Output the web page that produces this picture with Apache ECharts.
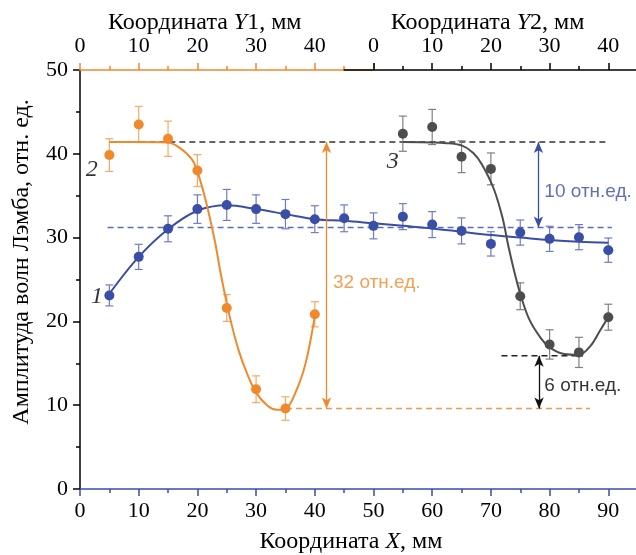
<!DOCTYPE html>
<html><head><meta charset="utf-8">
<script src="https://cdn.jsdelivr.net/npm/echarts@6/dist/echarts.min.js"></script>
<style>html,body{margin:0;padding:0;background:#fff}#c{width:636px;height:555px}</style>
</head><body><div id="c"></div>
<script>
// ---- data ----
const xSeries1 = [5,10,15,20,25,30,35,40,45,50,55,60,65,70,75,80,85,90];
const amp1 = [23.1,27.7,31.05,33.4,33.9,33.4,32.8,32.2,32.3,31.4,32.5,31.55,30.8,29.25,30.6,29.85,30.05,28.5];
const err1 = [1.25,1.5,1.55,1.7,1.85,1.7,1.75,1.6,1.6,1.55,1.55,1.55,1.55,1.45,1.5,1.5,1.5,1.45];

const xSeries2 = [5,10,15,20,25,30,35,40];
const amp2 = [39.85,43.5,41.8,38.0,21.6,11.9,9.6,20.85];
const err2 = [1.95,2.15,2.1,1.9,1.6,1.6,1.4,1.5];

const xSeries3 = [55,60,65,70,75,80,85,90];
const amp3 = [42.4,43.2,39.65,38.2,23.0,17.25,16.3,20.5];
const err3 = [2.1,2.1,1.9,1.9,1.6,1.75,1.8,1.55];

const fit1X = [5,10,15,20,25,30,35,40,45,50,55,60,65,70,75,80,85,90];
const fit1Y = [23.3,27.7,31.0,33.2,33.85,33.4,32.8,32.2,32.0,31.7,31.4,31.1,30.7,30.3,30.0,29.7,29.5,29.4];
const fit2X = [5,10,15,17,19,20,21.5,23,24,25.5,27,28.5,30,32,33.5,35,37,38.5,40];
const fit2Y = [41.4,41.4,41.35,40.7,39.4,37.9,34.2,29.5,25.6,20.6,16.6,13.7,11.5,9.9,9.45,9.55,12.0,15.2,20.6];
const fit3X = [55,60,62,65,67,68.5,70.5,72,73,74,75,76.5,78.5,80,82.5,85,87,88.5,90];
const fit3Y = [41.4,41.35,41.3,41.0,40.1,38.7,35.8,32.3,28.9,25.9,23.3,20.3,18.0,16.9,16.1,16.0,17.1,18.8,20.5];

// reference levels: [level, xStart, xEnd]
const levelTop = [41.4, 5, 89.7];
const levelMid = [31.2, 4.7, 90.6];
const levelLow = [9.6, 35.1, 86.9];
const levelMin3 = [15.9, 71.8, 85.7];

// arrows: [x, yFrom, yTo]
const arrow32 = [42.0, 41.4, 9.6];
const arrow10 = [78.1, 41.4, 31.2];
const arrow6 = [78.2, 15.9, 9.6];

// annotation texts: [x, y, text]
const noteTexts = [[43.1, 24.6, '32 отн.ед.'], [79.1, 35.5, '10 отн.ед.'], [79.1, 12.3, '6 отн.ед.']];
const curveNumbers = [[2.9, 23.0, '1'], [2.0, 38.1, '2'], [53.3, 39.0, '3']];

const xTickLabels = [0,10,20,30,40,50,60,70,80,90];
const y1TickLabels = [0,10,20,30,40];
const y2TickLabels = [0,10,20,30,40];
const yTickLabels = [0,10,20,30,40,50];

// ---- styles ----
const ORANGE = '#F0892B', ORANGE_L = '#F4A96A';
const BLUE = '#3A4EA5', BLUE_L = '#6F7CC2';
const GRAY = '#4D4D4D', GRAY_L = '#808080';
const SERIF = "'Liberation Serif','Times New Roman',serif";
const SANS = "'Liberation Sans',Arial,sans-serif";
const U = 5.87;
const TICK_FS = 22, TITLE_FS = 24;

function zip(xs, ys) { return xs.map((x, i) => [x, ys[i]]); }
function errData(xs, ys, es) { return xs.map((x, i) => [x, ys[i] - es[i], ys[i] + es[i]]); }

function errSeries(xs, ys, es, color) {
  return {
    type: 'custom', z: 3, silent: true,
    data: errData(xs, ys, es),
    renderItem: function (params, api) {
      const x = api.value(0);
      const p1 = api.coord([x, api.value(1)]);
      const p2 = api.coord([x, api.value(2)]);
      const w = 4;
      const st = { stroke: color, lineWidth: 1.2 };
      return { type: 'group', children: [
        { type: 'line', shape: { x1: p1[0], y1: p1[1], x2: p2[0], y2: p2[1] }, style: st },
        { type: 'line', shape: { x1: p1[0] - w, y1: p1[1], x2: p1[0] + w, y2: p1[1] }, style: st },
        { type: 'line', shape: { x1: p2[0] - w, y1: p2[1], x2: p2[0] + w, y2: p2[1] }, style: st }
      ] };
    }
  };
}
function pointSeries(xs, ys, color) {
  return { type: 'scatter', z: 5, silent: true, symbol: 'circle', symbolSize: 10,
    itemStyle: { color: color, opacity: 1 }, data: zip(xs, ys) };
}
function fitSeries(xs, ys, color) {
  return { type: 'line', z: 4, silent: true, smooth: 0.35, symbol: 'none',
    lineStyle: { color: color, width: 2 }, data: zip(xs, ys) };
}
function levelSeries(lv, color) {
  return { type: 'line', z: 2, silent: true, symbol: 'none',
    lineStyle: { color: color, width: 1.4, type: [6, 4] },
    data: [[lv[1], lv[0]], [lv[2], lv[0]]] };
}
function arrowSeries(a, color) {
  return { type: 'line', silent: true, data: [], z: 3,
    markLine: { silent: true, symbol: ['arrow', 'arrow'], symbolSize: [7, 11],
      label: { show: false }, lineStyle: { color: color, width: 1.3, type: 'solid' },
      data: [[{ coord: [a[0], a[1]] }, { coord: [a[0], a[2]] }]] } };
}
function titleStyle(pad) {
  return { color: '#000', fontFamily: SERIF, fontSize: TITLE_FS, padding: pad,
    rich: { i: { fontStyle: 'italic', fontFamily: SERIF, fontSize: TITLE_FS, color: '#000' } } };
}
function gridBox(x0, x1) {
  return { left: 80 + x0 * U, top: 70, width: (x1 - x0) * U, height: 419,
    outerBoundsMode: 'none', containLabel: false };
}

const labelColors = [ORANGE, BLUE, '#000'];

const option = {
  animation: false,
  backgroundColor: '#fff',
  grid: [ gridBox(0, 100), gridBox(0, 50), gridBox(45, 100), gridBox(50, 100) ],
  xAxis: [
    { type: 'value', gridIndex: 0, position: 'bottom', min: 0, max: 100, interval: 10,
      axisLine: { show: true, onZero: false, lineStyle: { color: BLUE, width: 1.5 } },
      axisTick: { show: true, inside: false, length: 7, lineStyle: { color: BLUE, width: 1.5 } },
      minorTick: { show: true, splitNumber: 2, length: 4, lineStyle: { color: BLUE, width: 1.5 } },
      splitLine: { show: false },
      axisLabel: { color: '#000', fontFamily: SERIF, fontSize: TICK_FS, margin: 11, showMaxLabel: false,
        formatter: v => (xTickLabels.indexOf(v) >= 0 ? String(v) : '') },
      name: 'Координата {i|X}, мм', nameLocation: 'middle', nameGap: 41,
      nameTextStyle: titleStyle([0, 45, 0, 0]) },
    // Y1 axis (orange), coordinate 0..50 drawn under the black part beyond 45
    { type: 'value', gridIndex: 1, position: 'top', min: 0, max: 50, interval: 10, z: 1,
      axisLine: { show: true, onZero: false, lineStyle: { color: ORANGE, width: 1.5 } },
      axisTick: { show: true, inside: false, length: 7, lineStyle: { color: ORANGE, width: 1.5 } },
      minorTick: { show: true, splitNumber: 2, length: 4, lineStyle: { color: ORANGE, width: 1.5 } },
      splitLine: { show: false },
      axisLabel: { color: '#000', fontFamily: SERIF, fontSize: TICK_FS, margin: 13, showMaxLabel: false,
        formatter: v => (y1TickLabels.indexOf(v) >= 0 ? String(v) : '') },
      name: 'Координата {i|Y}1, мм', nameLocation: 'middle', nameGap: 35, nameMoveOverlap: false,
      nameTextStyle: titleStyle([0, 44, 0, 0]) },
    // black line of the Y2 axis, from X = 45 onwards
    { type: 'value', gridIndex: 2, position: 'top', min: 0, max: 1, z: 2,
      axisLine: { show: true, onZero: false, lineStyle: { color: '#000', width: 1.5 } },
      axisTick: { show: false }, minorTick: { show: false }, splitLine: { show: false },
      axisLabel: { show: false },
      name: 'Координата {i|Y}2, мм', nameLocation: 'middle', nameGap: 35,
      nameTextStyle: titleStyle([0, 36, 0, 0]) },
    // Y2 ticks and labels
    { type: 'value', gridIndex: 3, position: 'top', min: 0, max: 50, interval: 10, z: 3,
      axisLine: { show: false, onZero: false },
      axisTick: { show: true, inside: false, length: 7, lineStyle: { color: '#000', width: 1.5 } },
      minorTick: { show: true, splitNumber: 2, length: 4, lineStyle: { color: '#000', width: 1.5 } },
      splitLine: { show: false },
      axisLabel: { color: '#000', fontFamily: SERIF, fontSize: TICK_FS, margin: 13, showMaxLabel: false,
        formatter: v => (y2TickLabels.indexOf(v) >= 0 ? String(v) : '') } }
  ],
  yAxis: [
    { type: 'value', gridIndex: 0, min: 0, max: 50, interval: 10,
      axisLine: { show: true, onZero: false, lineStyle: { color: '#000', width: 1.5 } },
      axisTick: { show: true, inside: false, length: 7, lineStyle: { color: '#000', width: 1.5 } },
      minorTick: { show: true, splitNumber: 2, length: 4, lineStyle: { color: '#000', width: 1.5 } },
      splitLine: { show: false },
      axisLabel: { color: '#000', fontFamily: SERIF, fontSize: TICK_FS, margin: 12,
        formatter: v => (yTickLabels.indexOf(v) >= 0 ? String(v) : '') },
      name: 'Амплитуда волн Лэмба, отн. ед.', nameLocation: 'middle', nameGap: 46, nameRotate: 90,
      nameTextStyle: { color: '#000', fontFamily: SERIF, fontSize: TITLE_FS, padding: [0, 0, 0, 35] } },
    { type: 'value', gridIndex: 1, min: 0, max: 50, show: false },
    { type: 'value', gridIndex: 2, min: 0, max: 50, show: false },
    { type: 'value', gridIndex: 3, min: 0, max: 50, show: false }
  ],
  series: [
    levelSeries(levelTop, '#333333'),
    levelSeries(levelMid, '#5A6BC0'),
    levelSeries(levelLow, '#F29A50'),
    levelSeries(levelMin3, '#222222'),
    arrowSeries(arrow32, ORANGE),
    arrowSeries(arrow10, BLUE),
    arrowSeries(arrow6, '#111111'),
    errSeries(xSeries1, amp1, err1, BLUE_L),
    errSeries(xSeries2, amp2, err2, ORANGE_L),
    errSeries(xSeries3, amp3, err3, GRAY_L),
    fitSeries(fit1X, fit1Y, BLUE),
    fitSeries(fit2X, fit2Y, ORANGE),
    fitSeries(fit3X, fit3Y, GRAY),
    pointSeries(xSeries1, amp1, BLUE),
    pointSeries(xSeries2, amp2, ORANGE),
    pointSeries(xSeries3, amp3, GRAY),
    { type: 'scatter', silent: true, z: 6, symbolSize: 0,
      data: noteTexts.map((t, i) => ({ value: [t[0], t[1]],
        label: { show: true, position: 'right', distance: 0, formatter: t[2],
          color: labelColors[i], fontFamily: SANS, fontSize: 19 } })) },
    { type: 'scatter', silent: true, z: 6, symbolSize: 0,
      data: curveNumbers.map(t => ({ value: [t[0], t[1]],
        label: { show: true, position: 'inside', formatter: t[2],
          color: '#000', fontFamily: SERIF, fontStyle: 'italic', fontSize: 24 } })) }
  ]
};
const chart = echarts.init(document.getElementById('c'), null, { renderer: 'canvas' });
chart.setOption(option);
</script></body></html>
